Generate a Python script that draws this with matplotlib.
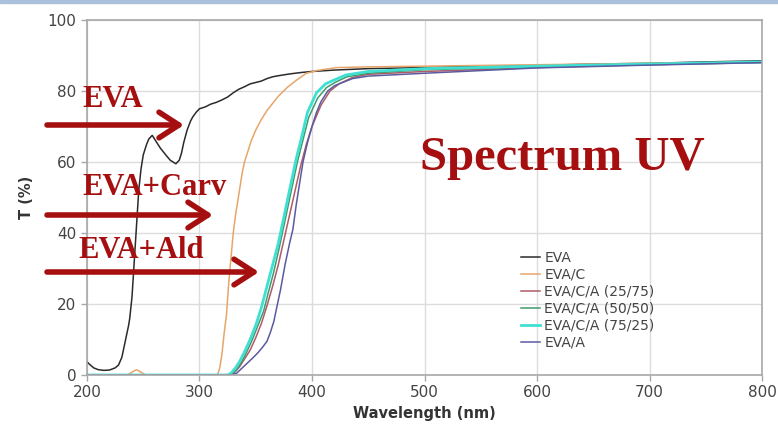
import numpy as np
import matplotlib
matplotlib.use("Agg")
import matplotlib.pyplot as plt
from matplotlib.patches import Rectangle

# transmittance curves
wl_eva = [200, 203, 206, 210, 215, 220, 225, 228, 231, 233, 235, 237, 238, 240, 242,
          244, 246, 248, 250, 253, 255, 258, 261, 265, 270, 274, 279, 282, 284, 286,
          289, 292, 294, 297, 300, 305, 310, 315, 320, 325, 330, 335, 340, 345, 350,
          355, 360, 365, 370, 380, 390, 400, 420, 450, 500, 550, 600, 650, 700, 750, 800]
t_eva = [3.7, 2.8, 2.0, 1.5, 1.3, 1.4, 2.0, 2.8, 5.0, 8.0, 11, 14, 16, 22, 32,
         42, 52, 58, 62, 65, 66.5, 67.5, 66, 64, 62, 60.5, 59.5, 60.5, 62.5, 65.5,
         69, 71.5, 72.7, 74, 75, 75.5, 76.3, 76.8, 77.5, 78.3, 79.5, 80.5, 81.2, 82, 82.4,
         82.8, 83.5, 84, 84.3, 84.8, 85.2, 85.5, 85.9, 86.3, 86.6, 87, 87.2, 87.6, 87.8, 88.2, 88.5]

wl_c = [200, 236, 240, 244, 248, 252, 300, 316, 318, 320, 322, 324, 326, 328, 330, 332,
        334, 336, 338, 340, 343, 346, 350, 355, 360, 365, 370, 378, 386, 395, 405, 422,
        450, 500, 550, 600, 700, 800]
t_c = [0, 0, 0.8, 1.5, 0.8, 0, 0, 0, 2, 6, 12, 17, 26, 33, 40, 45,
       49, 53, 57, 60, 63, 66, 69, 72, 74.5, 76.5, 78.5, 81, 83, 85, 85.8, 86.6,
       86.8, 87, 87.2, 87.4, 87.8, 88.2]

wl_ca25 = [200, 328, 332, 336, 340, 345, 350, 355, 360, 365, 370, 375, 380, 385, 390,
           395, 400, 408, 416, 424, 436, 450, 500, 600, 700, 800]
t_ca25 = [0, 0, 1, 2.5, 4.5, 7, 10.5, 14.5, 19.5, 25, 31, 38, 45, 52, 59,
          65, 70, 76, 80, 82, 83.8, 84.7, 85.5, 86.6, 87.4, 88]

wl_ca50 = [200, 327, 330, 334, 338, 342, 347, 352, 357, 361, 366, 371, 375, 379, 383,
           387, 391, 397, 405, 413, 421, 431, 450, 500, 600, 700, 800]
t_ca50 = [0, 0, 0.5, 2, 4, 6.5, 10, 14, 18, 23, 29, 36, 42, 48, 54,
          60, 65, 72.5, 78, 81, 82.5, 84, 85, 86, 86.8, 87.5, 88.1]

wl_ca75 = [200, 325, 328, 332, 336, 340, 345, 350, 355, 360, 365, 370, 374, 378, 382,
           386, 390, 396, 404, 412, 419, 430, 450, 500, 600, 700, 800]
t_ca75 = [0, 0, 0.5, 2, 4, 6.5, 10, 14, 19, 25, 31, 37, 43, 49, 55,
          61, 66, 74, 79.5, 82, 83, 84.5, 85.5, 86.3, 87, 87.6, 88.2]

wl_a = [200, 328, 333, 338, 343, 348, 352, 356, 360, 363, 366, 369, 372, 376, 380, 383,
        386, 389, 392, 396, 400, 404, 408, 414, 420, 428, 436, 450, 500, 600, 700, 800]
t_a = [0, 0, 0.5, 2, 3.5, 5, 6.3, 7.8, 9.5, 12, 15, 19.5, 24, 31, 37, 41,
       48, 54, 60, 65.5, 70, 74, 77, 80, 81.5, 82.5, 83.5, 84.2, 85, 86.5, 87.3, 88]

series = [
    ("EVA", wl_eva, t_eva, "#2b2b2b", 1.1),
    ("EVA/C", wl_c, t_c, "#e8a56a", 1.1),
    ("EVA/C/A (25/75)", wl_ca25, t_ca25, "#b05a68", 1.1),
    ("EVA/C/A (50/50)", wl_ca50, t_ca50, "#3f9a6e", 1.1),
    ("EVA/C/A (75/25)", wl_ca75, t_ca75, "#3fe0d2", 2.0),
    ("EVA/A", wl_a, t_a, "#5a5aa0", 1.1),
]

x_ticks = [200, 300, 400, 500, 600, 700, 800]
y_ticks = [0, 20, 40, 60, 80, 100]

# arrows: (label, label x, label baseline y, arrow tip x, arrow y) in picture pixels
arrows = [
    ("EVA", 82, 107, 184, 125),
    ("EVA+Carv", 82, 195, 213, 215),
    ("EVA+Ald", 78, 258, 259, 272),
]

W, H = 778, 438
fig = plt.figure(figsize=(W / 100, H / 100), dpi=100)
ax = fig.add_axes([87 / W, 1 - 375 / H, (762 - 87) / W, (375 - 20) / H])

for name, x, y, c, lw in series:
    ax.plot(x, y, color=c, lw=lw, label=name)

ax.set_xlim(200, 800)
ax.set_ylim(0, 100)
ax.set_xticks(x_ticks)
ax.set_yticks(y_ticks)
ax.grid(True, color="#dcdcdc", lw=1.0)
ax.set_axisbelow(True)
for sp in ax.spines.values():
    sp.set_color("#a8a8a8")
    sp.set_linewidth(1.2)
ax.tick_params(colors="#a8a8a8", labelcolor="#444444", labelsize=11, length=4, width=1)
ax.set_xlabel("Wavelength (nm)", fontsize=10.5, fontweight="bold", color="#333333", labelpad=4)
ax.set_ylabel("T (%)", fontsize=10.5, fontweight="bold", color="#333333", labelpad=10)

leg = ax.legend(loc="upper left", bbox_to_anchor=((515 - 87) / (762 - 87), (375 - 245) / 355),
                frameon=False, fontsize=10, handlelength=1.4, handletextpad=0.3,
                labelspacing=0.22, borderaxespad=0)
for t in leg.get_texts():
    t.set_color("#444444")

red = "#a50f0f"
for label, tx, ty, tip, ay in arrows:
    fig.text(tx / W, 1 - ty / H, label, fontsize=22, fontweight="bold",
             family="Liberation Serif", color=red, ha="left", va="baseline")
    ax.annotate("", xy=(tip / W, 1 - ay / H), xytext=(47 / W, 1 - ay / H),
                xycoords="figure fraction", textcoords="figure fraction",
                annotation_clip=False,
                arrowprops=dict(arrowstyle="->, head_length=0.65, head_width=0.42",
                                mutation_scale=22, lw=4, color=red,
                                shrinkA=0, shrinkB=0))

fig.text(420 / W, 1 - 170 / H, "Spectrum UV", fontsize=35, fontweight="bold",
         family="Liberation Serif", color=red, ha="left", va="baseline")

# thin blue strip along the top of the picture
fig.patches.append(Rectangle((0, 1 - 3 / H), 1, 3 / H, transform=fig.transFigure,
                             color="#a9c1da", zorder=5))

fig.savefig("out.png", dpi=100)
